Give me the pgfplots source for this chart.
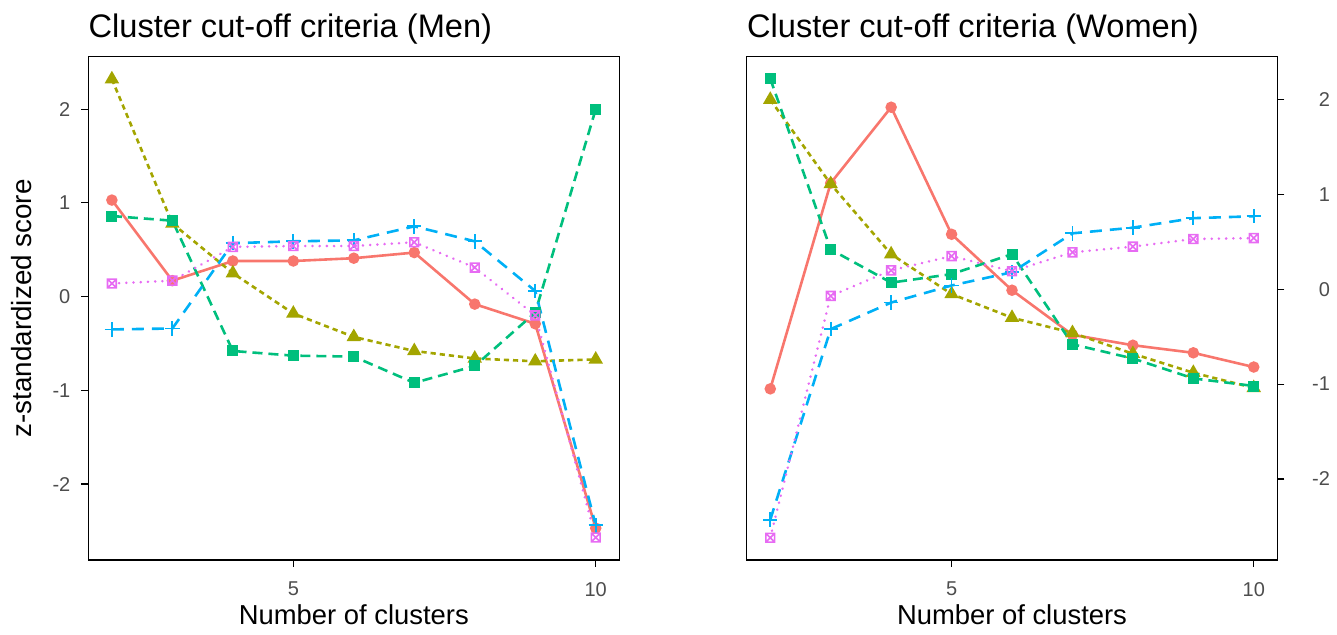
\documentclass[border=0pt]{standalone}
\usepackage{pgfplots}
\pgfplotsset{compat=1.18}
\usepackage{fontspec}
\setmainfont{Liberation Sans}
\definecolor{cR}{HTML}{F8766D}
\definecolor{cO}{HTML}{A3A500}
\definecolor{cG}{HTML}{00BF7D}
\definecolor{cB}{HTML}{00B0F6}
\definecolor{cP}{HTML}{E76BF3}
\definecolor{tickgray}{HTML}{4D4D4D}
\pgfdeclareplotmark{boxx}{%
  \pgfpathrectangle{\pgfpoint{-\pgfplotmarksize}{-\pgfplotmarksize}}{\pgfpoint{2\pgfplotmarksize}{2\pgfplotmarksize}}%
  \pgfpathmoveto{\pgfpoint{-\pgfplotmarksize}{-\pgfplotmarksize}}\pgfpathlineto{\pgfpoint{\pgfplotmarksize}{\pgfplotmarksize}}%
  \pgfpathmoveto{\pgfpoint{-\pgfplotmarksize}{\pgfplotmarksize}}\pgfpathlineto{\pgfpoint{\pgfplotmarksize}{-\pgfplotmarksize}}%
  \pgfusepathqstroke}
\pgfplotsset{
  panel/.style={
    scale only axis, height=251.65pt, anchor=south west,
    xmin=1.61, xmax=10.39, xtick={5,10}, ytick={-2,-1,0,1,2},
    xtick pos=bottom,
    tick align=outside, major tick length=3.5pt,
    tick style={black, line width=0.6pt},
    axis line style={black, line width=0.7pt},
    /pgf/number format/assume math mode=true,
    ticklabel style={font=\fontsize{10}{12}\selectfont, text=tickgray, inner sep=0pt},
    xticklabel style={anchor=north, yshift=-7.35pt},
    every axis title/.style={at={(rel axis cs:0,1)}, anchor=base west, inner sep=0pt, yshift=9.6pt, font=\fontsize{16.3}{19}\selectfont},
    every axis x label/.style={at={(rel axis cs:0.5,0)}, anchor=base, inner sep=0pt, yshift=-32.5pt, font=\fontsize{13.7}{16}\selectfont},
    every axis y label/.style={at={(rel axis cs:0,0.5)}, xshift=-28.3pt, rotate=90, anchor=base, inner sep=0pt, font=\fontsize{13.9}{16}\selectfont},
    clip=false,
  },
  sR/.style={color=cR, line width=1.3pt, mark=*, mark size=2.2pt, mark options={solid}},
  sO/.style={color=cO, line width=1.3pt, dash pattern=on 2.6pt off 2pt, mark=triangle*, mark size=2.9pt, mark options={solid}},
  sG/.style={color=cG, line width=1.3pt, dash pattern=on 5pt off 3pt, mark=square*, mark size=2.1pt, mark options={solid}},
  sB/.style={color=cB, line width=1.3pt, dash pattern=on 6pt off 4pt, mark=+, mark size=3.6pt, mark options={solid, line width=0.9pt}},
  sP/.style={color=cP, line width=1.4pt, dash pattern=on 0.01pt off 3.6pt, line cap=round, mark=boxx, mark size=2.2pt, mark options={solid, line width=0.8pt, line cap=butt}},
}
\begin{document}
\begin{tikzpicture}
\useasboundingbox (0,0) rectangle (668.5pt,317.5pt);
\begin{axis}[panel, at={(44.15pt,37.5pt)}, width=265.5pt,
  ymin=-2.81, ymax=2.56,
  ytick pos=left,
  yticklabel style={anchor=east, xshift=-5.3pt},
  title={Cluster cut-off criteria (Men)},
  xlabel={Number of clusters}, ylabel={z-standardized score}]
\addplot[sR] coordinates {(2,1.03)(3,0.17)(4,0.38)(5,0.38)(6,0.41)(7,0.47)(8,-0.08)(9,-0.29)(10,-2.47)};
\addplot[sO] coordinates {(2,2.32)(3,0.78)(4,0.25)(5,-0.18)(6,-0.43)(7,-0.58)(8,-0.66)(9,-0.69)(10,-0.67)};
\addplot[sG] coordinates {(2,0.86)(3,0.81)(4,-0.58)(5,-0.63)(6,-0.64)(7,-0.92)(8,-0.74)(9,-0.17)(10,2.00)};
\addplot[sB] coordinates {(2,-0.35)(3,-0.34)(4,0.57)(5,0.59)(6,0.60)(7,0.75)(8,0.59)(9,0.06)(10,-2.44)};
\addplot[sP] coordinates {(2,0.14)(3,0.17)(4,0.53)(5,0.54)(6,0.54)(7,0.58)(8,0.31)(9,-0.20)(10,-2.57)};
\end{axis}
\begin{axis}[panel, at={(373.35pt,37.5pt)}, width=265.3pt,
  ymin=-2.855, ymax=2.453,
  ytick pos=right, yticklabel pos=right,
  yticklabel style={anchor=west, text width=9pt, align=right, xshift=13.6pt},
  title={Cluster cut-off criteria (Women)},
  xlabel={Number of clusters}]
\addplot[sR] coordinates {(2,-1.05)(3,1.12)(4,1.92)(5,0.58)(6,-0.01)(7,-0.48)(8,-0.59)(9,-0.67)(10,-0.82)};
\addplot[sO] coordinates {(2,2.00)(3,1.11)(4,0.37)(5,-0.05)(6,-0.30)(7,-0.46)(8,-0.68)(9,-0.88)(10,-1.04)};
\addplot[sG] coordinates {(2,2.22)(3,0.42)(4,0.07)(5,0.16)(6,0.37)(7,-0.58)(8,-0.73)(9,-0.94)(10,-1.02)};
\addplot[sB] coordinates {(2,-2.43)(3,-0.42)(4,-0.14)(5,0.04)(6,0.18)(7,0.59)(8,0.65)(9,0.75)(10,0.77)};
\addplot[sP] coordinates {(2,-2.62)(3,-0.07)(4,0.20)(5,0.35)(6,0.19)(7,0.39)(8,0.45)(9,0.53)(10,0.54)};
\end{axis}
\end{tikzpicture}
\end{document}
